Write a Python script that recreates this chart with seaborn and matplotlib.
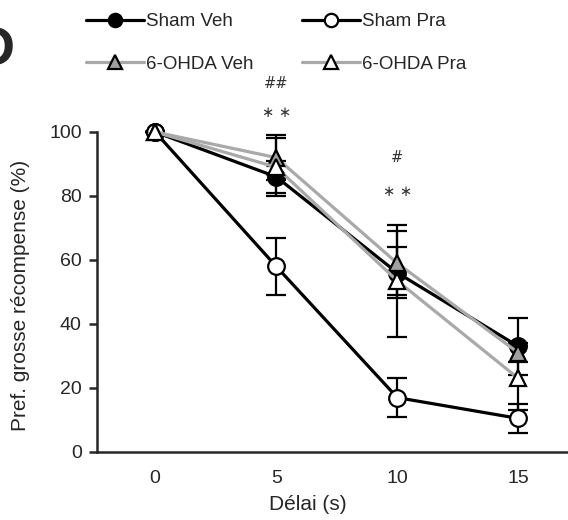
import numpy as np
import pandas as pd
import matplotlib
matplotlib.use("Agg")
import matplotlib.pyplot as plt
import seaborn as sns

# ----------------------------------------------------------
# Data
# ----------------------------------------------------------
delays = ["0", "5", "10", "15"]

sham_veh = [100, 86, 56, 33]
sham_veh_sem = [0, 5, 8, 9]

sham_pra = [100, 58, 17, 10.5]
sham_pra_sem = [0, 9, 6, 4.5]

ohda_veh = [100, 92, 59, 31]
ohda_veh_sem = [0, 7, 10, 3]

ohda_pra = [100, 89, 53.5, 23]
ohda_pra_sem = [0, 9, 17.5, 10]

groups = ["Sham Veh", "Sham Pra", "6-OHDA Veh", "6-OHDA Pra"]

# significance marks: (delay index, y, text)
marks = [(1, 115, "##"), (1, 106, "\u2217 \u2217"), (2, 92, "#"), (2, 81.5, "\u2217 \u2217")]

# ----------------------------------------------------------
# Style
# ----------------------------------------------------------
sns.set_style("ticks")
plt.rcParams["font.family"] = ["Liberation Sans", "DejaVu Sans"]

gray = "#a9a9a9"
styles = {
    "Sham Veh": dict(color="black", marker="o", mfc="black", ms=12),
    "Sham Pra": dict(color="black", marker="o", mfc="white", ms=12),
    "6-OHDA Veh": dict(color=gray, marker="^", mfc="#a0a0a0", ms=12),
    "6-OHDA Pra": dict(color=gray, marker="^", mfc="white", ms=12),
}

values = [sham_veh, sham_pra, ohda_veh, ohda_pra]
sems = [sham_veh_sem, sham_pra_sem, ohda_veh_sem, ohda_pra_sem]
pos = np.arange(len(delays))

fig = plt.figure(figsize=(5.68, 5.2), dpi=100)
ax = fig.add_axes([97 / 568, 68 / 520, 1 - 97 / 568, 320 / 520])

for i, (name, vals, err) in enumerate(zip(groups, values, sems)):
    st = styles[name]
    df = pd.DataFrame({"pos": pos, "val": vals})
    ax.errorbar(pos, vals, yerr=err, fmt="none", ecolor="black",
                elinewidth=1.6, capsize=7, capthick=1.6,
                zorder=2 + i * 0.1, clip_on=False)
    sns.lineplot(data=df, x="pos", y="val", ax=ax, color=st["color"],
                 linewidth=2.3, marker=st["marker"], markersize=st["ms"],
                 markerfacecolor=st["mfc"], markeredgecolor="black",
                 markeredgewidth=1.6, label=name, zorder=3 + i * 0.1,
                 clip_on=False)

for xi, yv, txt in marks:
    ax.text(xi, yv, txt, ha="center", va="center", fontsize=10.5,
            color="#333333", family="DejaVu Sans")

ax.set_xlim(-0.48, 3.41)
ax.set_ylim(0, 100)
ax.set_xticks(pos)
ax.set_xticklabels(delays)
ax.set_yticks([0, 20, 40, 60, 80, 100])
ax.tick_params(axis="x", length=0, labelsize=14, pad=13)
ax.tick_params(axis="y", length=6, width=1.8, labelsize=14, pad=5)

for s in ["top", "right"]:
    ax.spines[s].set_visible(False)
for s in ["left", "bottom"]:
    ax.spines[s].set_linewidth(1.8)

ax.set_xlabel("Délai (s)", fontsize=15)
ax.xaxis.set_label_coords(0.448, -0.135)
ax.set_ylabel("Pref. grosse récompense (%)", fontsize=15)
ax.yaxis.set_label_coords(-0.142, 0.49)

ax.get_legend().remove()
handles, labels = ax.get_legend_handles_labels()
order = [0, 2, 1, 3]  # row-major: Sham Veh, Sham Pra / 6-OHDA Veh, 6-OHDA Pra
fig.legend([handles[k] for k in order], [labels[k] for k in order],
           ncol=2, loc="upper left",
           bbox_to_anchor=(86 / 568, 0.975), frameon=False, fontsize=13.5,
           handlelength=3.1, handletextpad=0.1, columnspacing=2.6,
           labelspacing=1.35, borderpad=0, borderaxespad=0, markerscale=0.8)

fig.text(-0.045, 0.875, "D", fontsize=40, fontweight="bold", va="baseline")

fig.savefig("out.png", dpi=100)
